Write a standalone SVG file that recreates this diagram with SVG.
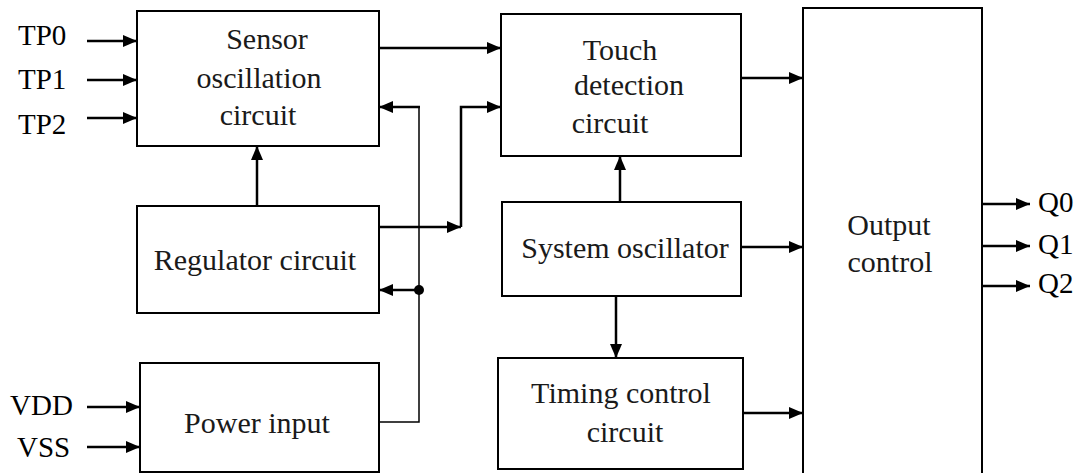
<svg xmlns="http://www.w3.org/2000/svg" width="1084" height="473" viewBox="0 0 1084 473">
<style>
.box{fill:#fff;stroke:#000;stroke-width:2}
.lbl{font-family:"Liberation Serif","Times New Roman","DejaVu Serif",serif;font-size:30px;fill:#1a1a1a;text-anchor:middle}
.pin{font-family:"Liberation Serif","Times New Roman","DejaVu Serif",serif;font-size:29px;fill:#000}
.w{fill:none;stroke:#000;stroke-width:2.5}
.t{fill:none;stroke:#000;stroke-width:1.5}
</style>
<defs>
<marker id="ah" markerUnits="userSpaceOnUse" markerWidth="16" markerHeight="14" refX="14" refY="6" orient="auto">
<path d="M0,0 L14,6 L0,12 Z" fill="#000"/>
</marker>
</defs>
<rect width="1084" height="473" fill="#fff"/>
<g id="sensor"><rect class="box" x="137" y="11" width="242" height="135"/>
<text class="lbl" x="267" y="49">Sensor</text><text class="lbl" x="259" y="88">oscillation</text><text class="lbl" x="258" y="125">circuit</text></g>
<g id="regulator"><rect class="box" x="137" y="206" width="242" height="107"/>
<text class="lbl" x="255" y="270">Regulator circuit</text></g>
<g id="power"><rect class="box" x="140" y="363" width="239" height="109"/>
<text class="lbl" x="257" y="433">Power input</text></g>
<g id="touch"><rect class="box" x="501" y="14" width="240" height="142"/>
<text class="lbl" x="620" y="60">Touch</text><text class="lbl" x="629" y="95">detection</text><text class="lbl" x="610" y="133">circuit</text></g>
<g id="sysosc"><rect class="box" x="502" y="202" width="239" height="94"/>
<text class="lbl" x="625" y="258">System oscillator</text></g>
<g id="timing"><rect class="box" x="498" y="358" width="245" height="111"/>
<text class="lbl" x="621" y="403">Timing control</text><text class="lbl" x="625" y="442">circuit</text></g>
<g id="output"><rect class="box" x="803" y="8" width="179" height="475"/>
<text class="lbl" x="889" y="235">Output</text><text class="lbl" x="890" y="272">control</text></g>
<g id="pins">
<text class="pin" x="18" y="45">TP0</text><text class="pin" x="18" y="89">TP1</text><text class="pin" x="18" y="134">TP2</text>
<text class="pin" x="10" y="415">VDD</text><text class="pin" x="17" y="457">VSS</text>
<text class="pin" x="1038" y="212">Q0</text><text class="pin" x="1038" y="254">Q1</text><text class="pin" x="1038" y="293">Q2</text>
</g>
<g id="connectors">
<line class="w" x1="87" y1="41" x2="137" y2="41" marker-end="url(#ah)"/>
<line class="w" x1="87" y1="80" x2="137" y2="80" marker-end="url(#ah)"/>
<line class="w" x1="87" y1="118" x2="137" y2="118" marker-end="url(#ah)"/>
<line class="w" x1="87" y1="407" x2="140" y2="407" marker-end="url(#ah)"/>
<line class="w" x1="87" y1="447" x2="140" y2="447" marker-end="url(#ah)"/>
<line class="w" x1="379" y1="48" x2="501" y2="48" marker-end="url(#ah)"/>
<line class="w" x1="257" y1="206" x2="257" y2="146" marker-end="url(#ah)"/>
<line class="w" x1="379" y1="227" x2="461" y2="227" marker-end="url(#ah)"/>
<polyline class="w" points="461,227 461,107 501,107" marker-end="url(#ah)"/>
<polyline class="t" points="379,422 419,422 419,107"/>
<line class="w" x1="420" y1="107" x2="379" y2="107" marker-end="url(#ah)"/>
<line class="w" x1="419" y1="290" x2="379" y2="290" marker-end="url(#ah)"/>
<circle cx="419" cy="290" r="5" fill="#000"/>
<line class="w" x1="741" y1="78" x2="803" y2="78" marker-end="url(#ah)"/>
<line class="w" x1="741" y1="247" x2="803" y2="247" marker-end="url(#ah)"/>
<line class="w" x1="743" y1="413" x2="803" y2="413" marker-end="url(#ah)"/>
<line class="w" x1="620" y1="202" x2="620" y2="156" marker-end="url(#ah)"/>
<line class="w" x1="616" y1="296" x2="616" y2="358" marker-end="url(#ah)"/>
<line class="w" x1="982" y1="204" x2="1030" y2="204" marker-end="url(#ah)"/>
<line class="w" x1="982" y1="246" x2="1030" y2="246" marker-end="url(#ah)"/>
<line class="w" x1="982" y1="286" x2="1030" y2="286" marker-end="url(#ah)"/>
</g>
</svg>
